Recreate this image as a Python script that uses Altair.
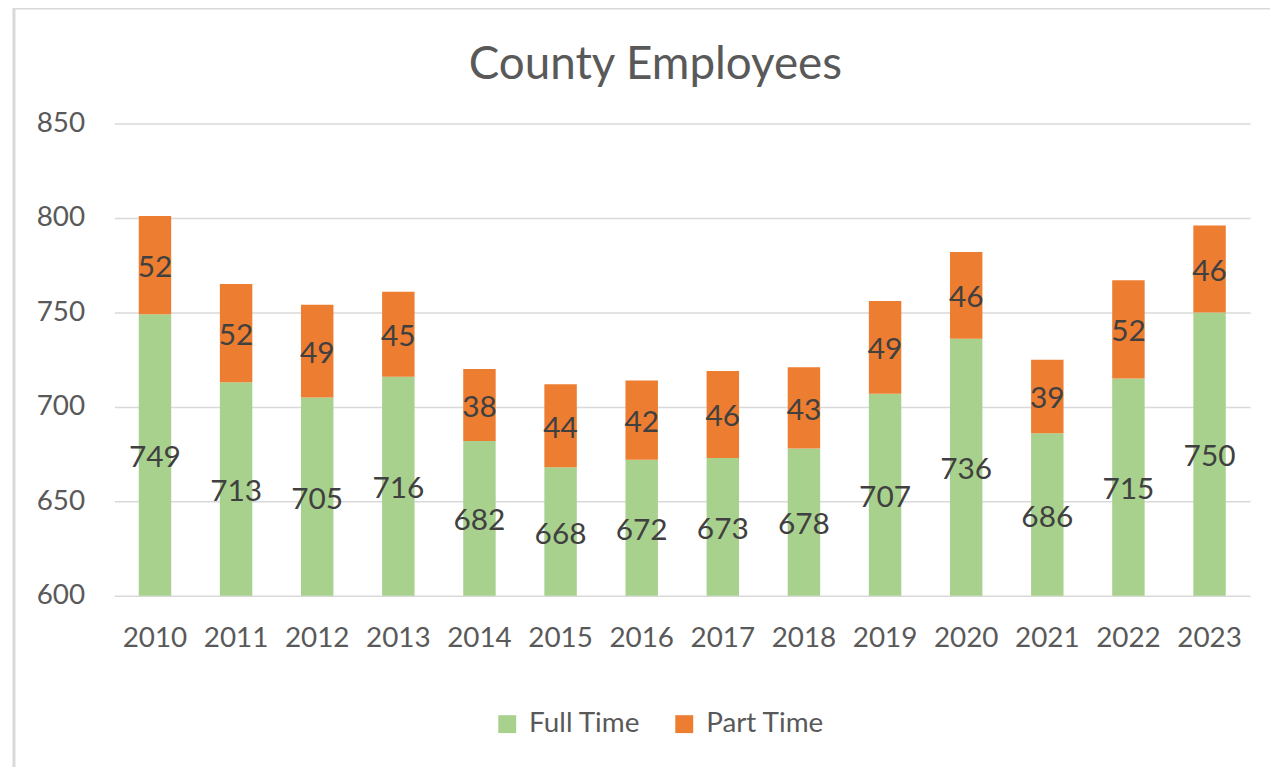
import altair as alt
import pandas as pd

years = ["2010", "2011", "2012", "2013", "2014", "2015", "2016",
         "2017", "2018", "2019", "2020", "2021", "2022", "2023"]
full_time = [749, 713, 705, 716, 682, 668, 672, 673, 678, 707, 736, 686, 715, 750]
part_time = [52, 52, 49, 45, 38, 44, 42, 46, 43, 49, 46, 39, 52, 46]
series = ["Full Time", "Part Time"]
y_ticks = [600, 650, 700, 750, 800, 850]
colors = ["#A9D18E", "#ED7D31"]

rows = []
for y, f, p in zip(years, full_time, part_time):
    rows.append({"year": y, "type": series[0], "value": f, "ord": 0})
    rows.append({"year": y, "type": series[1], "value": p, "ord": 1})
df = pd.DataFrame(rows)

FONT = "Lato"
ymin = y_ticks[0]

x_enc = alt.X("year:N", sort=years,
              scale=alt.Scale(paddingInner=0.6, paddingOuter=0.3),
              axis=alt.Axis(title=None, labelAngle=0, ticks=False, domain=False,
                            labelFont=FONT, labelFontSize=28, labelColor="#595959",
                            labelPadding=29, grid=False))
y_scale = alt.Scale(domain=[y_ticks[0], y_ticks[-1]], nice=False, zero=False)

bars = alt.Chart(df).mark_bar(clip=True).encode(
    x=x_enc,
    y=alt.Y("value:Q", stack="zero", scale=y_scale,
            axis=alt.Axis(title=None, values=y_ticks, ticks=False, domain=False,
                          labelFont=FONT, labelFontSize=28, labelColor="#595959",
                          labelPadding=30, gridColor="#D9D9D9", gridWidth=1.5)),
    color=alt.Color("type:N", scale=alt.Scale(domain=series, range=colors),
                    legend=alt.Legend(title=None, orient="none", direction="horizontal",
                                      legendX=381, legendY=590,
                                      symbolType="square", symbolSize=324,
                                      symbolStrokeWidth=0, labelFont=FONT,
                                      labelFontSize=28, labelColor="#595959",
                                      labelOffset=8, columnPadding=30)),
    order=alt.Order("ord:Q"),
)

labels = alt.Chart(df).transform_stack(
    stack="value", groupby=["year"], as_=["y0", "y1"], sort=[alt.SortField("ord")]
).transform_calculate(
    mid=f"(max(datum.y0, {ymin}) + datum.y1) / 2"
).mark_text(font=FONT, fontSize=30, color="#404040", baseline="middle", dy=3).encode(
    x=alt.X("year:N", sort=years),
    y=alt.Y("mid:Q", scale=y_scale),
    text=alt.Text("value:Q"),
)

border = alt.Chart(pd.DataFrame({"a": [0]})).mark_rect(
    fill=None, stroke="#D9D9D9", strokeWidth=3
).encode(
    x=alt.value(-101), y=alt.value(-116), x2=alt.value(1300), y2=alt.value(800)
)

chart = alt.layer(border, bars, labels).properties(
    width=1142, height=475,
    autosize=alt.AutoSizeParams(type="none"),
    padding={"left": 107, "top": 114, "right": 20, "bottom": 170},
    title=alt.Title("County Employees", font=FONT, fontSize=46, color="#595959",
                    fontWeight="normal", anchor="middle", frame="group",
                    baseline="alphabetic", dx=-27, offset=0, dy=119),
).configure_view(stroke=None)

chart.save("out.html", embed_options={"renderer": "svg", "actions": False})
